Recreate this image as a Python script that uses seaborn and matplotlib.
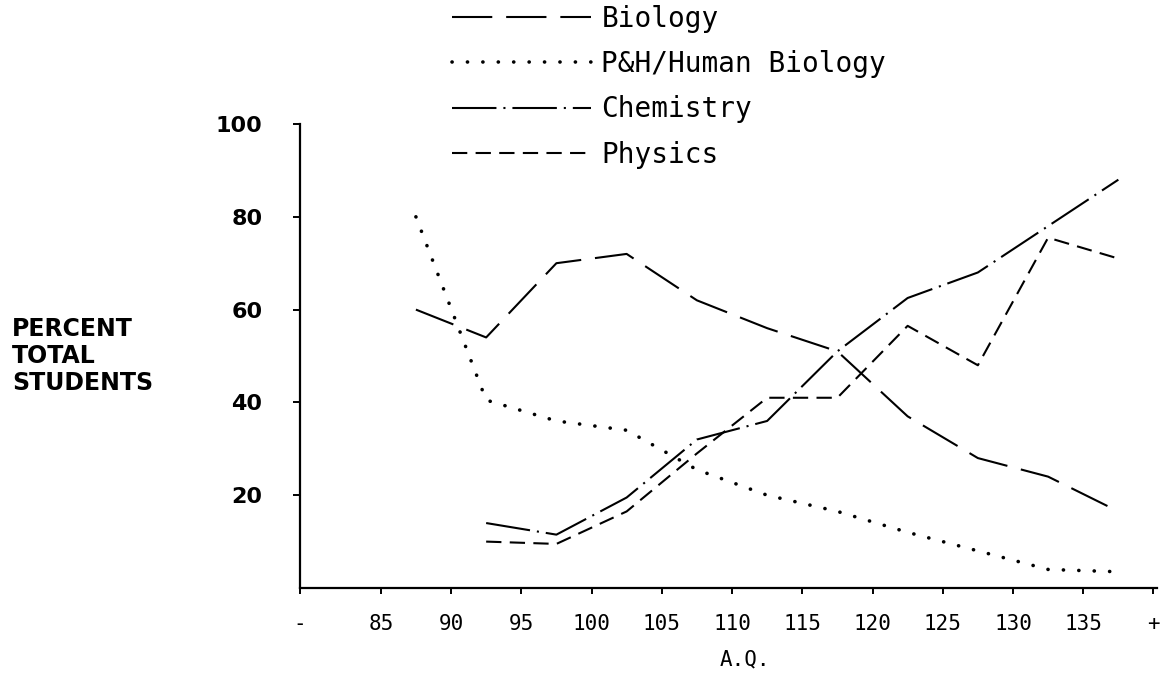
import numpy as np
import pandas as pd
import matplotlib
matplotlib.use("Agg")
import matplotlib.pyplot as plt
import seaborn as sns

# ---------------- data ----------------
aq_bins = ["85-89", "90-94", "95-99", "100-104", "105-109", "110-114",
           "115-119", "120-124", "125-129", "130-134", "135+"]
tick_labels = ["-", "85", "90", "95", "100", "105", "110", "115",
               "120", "125", "130", "135", "+"]
y_ticks = [20, 40, 60, 80, 100]

biology = [60, 54, 70, 72, 62, 56, 51, 37, 28, 24, 16.5]
ph_human_biology = [80, 40.5, 36, 34, 25.5, 20, 16.5, 12, 8, 4, 3.5]
chemistry = [np.nan, 14, 11.5, 19.5, 32, 36, 51, 62.5, 68, 78, 88]
physics = [np.nan, 10, 9.5, 16.5, 29, 41, 41, 56.5, 48, 75.5, 71]

subjects = ["Biology", "P&H/Human Biology", "Chemistry", "Physics"]
series = [biology, ph_human_biology, chemistry, physics]

rows = []
for s, vals in zip(subjects, series):
    for i, (b, v) in enumerate(zip(aq_bins, vals)):
        rows.append({"subject": s, "bin": b, "pos": i, "value": v})
df = pd.DataFrame(rows).dropna()

# ---------------- style ----------------
sns.set_style("white")
plt.rcParams["font.family"] = ["DejaVu Sans"]
plt.rcParams["lines.scale_dashes"] = False
for k in ["text.color", "axes.labelcolor", "xtick.color", "ytick.color"]:
    plt.rcParams[k] = "black"

W, H = 1163, 681
fig = plt.figure(figsize=(W / 100, H / 100), dpi=100)
ax = fig.add_axes([300 / W, 1 - 588 / H, 857 / W, 464 / H])

styles = {
    "Biology": dict(linestyle=(0, (29, 10)), linewidth=1.5),
    "P&H/Human Biology": dict(linestyle=(0, (0.1, 11)), linewidth=2.6,
                              dash_capstyle="round"),
    "Chemistry": dict(linestyle=(0, (32, 5, 1.5, 5)), linewidth=1.5),
    "Physics": dict(linestyle=(0, (11, 6)), linewidth=1.5),
}

for s in subjects:
    sub = df[df["subject"] == s]
    sns.lineplot(data=sub, x="pos", y="value", ax=ax, color="black",
                 errorbar=None, sort=False, label=s, **styles[s])

# ---------------- axes ----------------
x_left = -1.65
x_right = 10.55
ax.set_xlim(x_left, x_right)
ax.set_ylim(0, 100)

xt = [x_left] + [i - 0.5 for i in range(12)]
ax.set_xticks(xt)
ax.set_xticklabels(tick_labels, fontsize=15, family="DejaVu Sans Mono")
ax.set_yticks(y_ticks)
ax.set_yticklabels([str(v) for v in y_ticks], fontsize=16, fontweight="bold")

for side in ["top", "right"]:
    ax.spines[side].set_visible(False)
for side in ["left", "bottom"]:
    ax.spines[side].set_color("black")
    ax.spines[side].set_linewidth(1.6)

ax.tick_params(axis="y", direction="out", length=5, width=1.4, pad=22,
               colors="black", left=True)
ax.tick_params(axis="x", direction="out", length=4, width=1.4, pad=15,
               colors="black", bottom=True)

ax.set_xlabel("A.Q.", fontsize=15, family="DejaVu Sans Mono")
ax.xaxis.set_label_coords(0.519, -0.132)
ax.set_ylabel("PERCENT\nTOTAL\nSTUDENTS", rotation=0, fontsize=17,
              fontweight="bold", ha="left", va="center",
              multialignment="left", linespacing=1.15)
ax.yaxis.set_label_coords(-0.336, 0.50)

leg = ax.legend(loc="upper left", bbox_to_anchor=(452 / W, 1 - 5 / H),
                bbox_transform=fig.transFigure, frameon=False,
                prop={"family": "DejaVu Sans Mono", "size": 20},
                handlelength=5.0, handletextpad=0.38, labelspacing=0.62,
                borderpad=0, borderaxespad=0)
for line in leg.get_lines():
    line.set_color("black")

fig.savefig("out.png", dpi=100, facecolor="white")
